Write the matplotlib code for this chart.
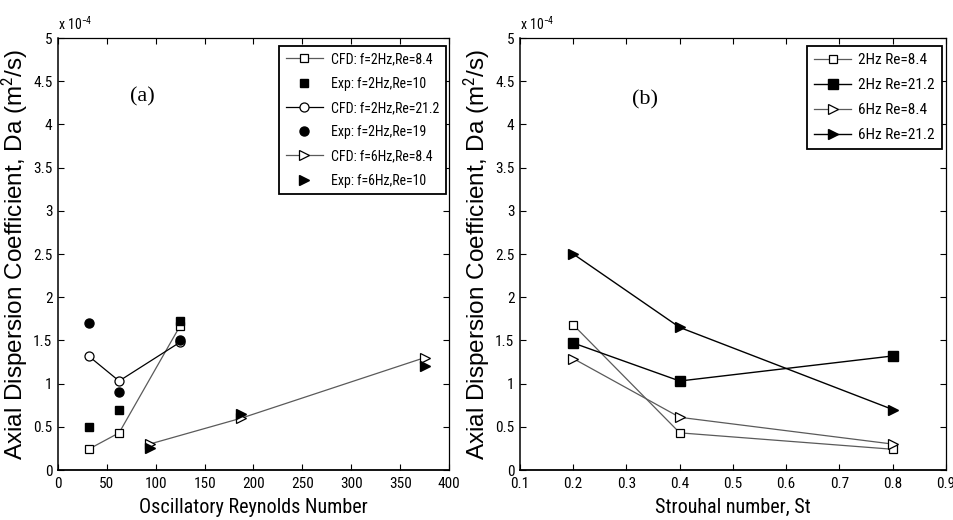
import numpy as np
import matplotlib
matplotlib.use('Agg')
import matplotlib.pyplot as plt

# ---- data (Da in units of 1e-4 m^2/s) ----
re_2hz = [31.25, 62.5, 125]
re_6hz = [93.75, 187.5, 375]
cfd_2hz_re84 = [0.24, 0.43, 1.67]
exp_2hz_re10 = [0.50, 0.70, 1.72]
cfd_2hz_re212 = [1.32, 1.03, 1.48]
exp_2hz_re19 = [1.70, 0.90, 1.50]
cfd_6hz_re84 = [0.30, 0.60, 1.30]
exp_6hz_re10 = [0.26, 0.65, 1.20]

st = [0.2, 0.4, 0.8]
st_2hz_re84 = [1.68, 0.43, 0.24]
st_2hz_re212 = [1.47, 1.03, 1.32]
st_6hz_re84 = [1.29, 0.61, 0.30]
st_6hz_re212 = [2.50, 1.65, 0.70]

NARROW = 'Roboto Condensed'
plt.rcParams['font.family'] = NARROW
plt.rcParams['mathtext.fontset'] = 'custom'
plt.rcParams['mathtext.rm'] = NARROW
plt.rcParams['mathtext.it'] = NARROW

fig = plt.figure(figsize=(9.54, 5.2), dpi=100)
W, H = 954, 520
ax1 = fig.add_axes([58 / W, 1 - 470 / H, (449 - 58) / W, (470 - 38) / H])
ax2 = fig.add_axes([520 / W, 1 - 470 / H, (946 - 520) / W, (470 - 38) / H])

ylab = 'Axial Dispersion Coefficient, Da (m$^2$/s)'
GRAY = '#5a5a5a'
open_kw = dict(mfc='white', mec='black', mew=0.9)

# ---- (a) ----
ax1.plot(re_2hz, cfd_2hz_re84, color=GRAY, lw=0.9, marker='s', ms=6, **open_kw,
         label='CFD: f=2Hz,Re=8.4')
ax1.plot(re_2hz, exp_2hz_re10, ls='none', marker='s', ms=6, color='black',
         label='Exp: f=2Hz,Re=10')
ax1.plot(re_2hz, cfd_2hz_re212, color='black', lw=0.9, marker='o', ms=6.5, **open_kw,
         label='CFD: f=2Hz,Re=21.2')
ax1.plot(re_2hz, exp_2hz_re19, ls='none', marker='o', ms=6.5, color='black',
         label='Exp: f=2Hz,Re=19')
ax1.plot(re_6hz, cfd_6hz_re84, color=GRAY, lw=0.9, marker='>', ms=7, **open_kw,
         label='CFD: f=6Hz,Re=8.4')
ax1.plot(re_6hz, exp_6hz_re10, ls='none', marker='>', ms=7, color='black',
         label='Exp: f=6Hz,Re=10')
ax1.set_xlim(0, 400)
ax1.set_xticks(np.arange(0, 401, 50))
ax1.set_xlabel('Oscillatory Reynolds Number', fontsize=14.5, labelpad=5)
ax1.text(0.215, 0.863, '(a)', transform=ax1.transAxes, fontsize=16,
         family='Liberation Serif', ha='center', va='center')
ax1.legend(loc='upper right', bbox_to_anchor=(1 - 3 / 391, 1 - 8 / 432),
           fontsize=10, borderaxespad=0, handlelength=2.7,
           labelspacing=0.74, handletextpad=0.6, borderpad=0.45)

# ---- (b) ----
ax2.plot(st, st_2hz_re84, color=GRAY, lw=0.9, marker='s', ms=6, **open_kw,
         label='2Hz Re=8.4')
ax2.plot(st, st_2hz_re212, color='black', lw=1.0, marker='s', ms=6.5,
         mfc='black', mec='black', label='2Hz Re=21.2')
ax2.plot(st, st_6hz_re84, color=GRAY, lw=0.9, marker='>', ms=7, **open_kw,
         label='6Hz Re=8.4')
ax2.plot(st, st_6hz_re212, color='black', lw=1.0, marker='>', ms=7.5,
         mfc='black', mec='black', label='6Hz Re=21.2')
ax2.set_xlim(0.1, 0.9)
ax2.set_xticks(np.round(np.arange(0.1, 0.91, 0.1), 1))
ax2.set_xlabel('Strouhal number, St', fontsize=14.5, labelpad=5)
ax2.text(0.293, 0.856, '(b)', transform=ax2.transAxes, fontsize=16,
         family='Liberation Serif', ha='center', va='center')
ax2.legend(loc='upper right', bbox_to_anchor=(1 - 4 / 426, 1 - 8 / 432),
           fontsize=11, borderaxespad=0, handlelength=2.4,
           labelspacing=0.72, handletextpad=0.5, borderpad=0.45)

for ax in (ax1, ax2):
    ax.set_ylim(0, 5)
    ax.set_yticks(np.arange(0, 5.01, 0.5))
    ax.set_yticklabels(['0', '0.5', '1', '1.5', '2', '2.5', '3', '3.5', '4', '4.5', '5'])
    ax.set_ylabel(ylab, fontsize=17.5, family='Liberation Sans', labelpad=2)
    ax.tick_params(direction='in', top=True, right=True, length=4, width=0.8,
                   labelsize=11, pad=4)
    ax.tick_params(axis='x', pad=5)
    for s in ax.spines.values():
        s.set_linewidth(0.9)
    ax.spines['bottom'].set_linewidth(1.3)
    ax.spines['left'].set_linewidth(1.1)
    ax.text(0.0, 1.012, 'x 10$^{-4}$', transform=ax.transAxes, fontsize=10,
            ha='left', va='bottom')
    fr = ax.get_legend().get_frame()
    fr.set_boxstyle('square', pad=0)
    fr.set_edgecolor('black')
    fr.set_linewidth(1.3)
    fr.set_alpha(1)

fig.savefig('out.png', dpi=100)
